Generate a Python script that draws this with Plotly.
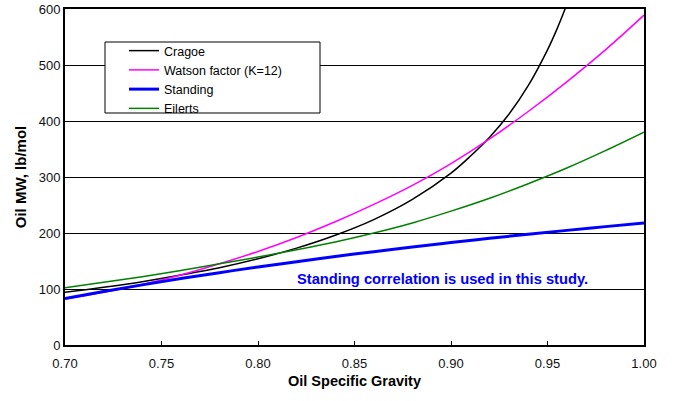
import plotly.graph_objects as go

sg = [0.70, 0.72, 0.74, 0.76, 0.78, 0.80, 0.82, 0.84, 0.86, 0.88, 0.90, 0.92, 0.94, 0.96, 0.98, 1.00]

cragoe_sg = [0.70, 0.72, 0.74, 0.76, 0.78, 0.80, 0.82, 0.84, 0.86, 0.88, 0.90, 0.91, 0.92, 0.93, 0.94, 0.95, 0.955, 0.96]
cragoe_mw = [94, 103, 113, 125, 138, 154, 173, 196, 224, 260, 307, 337, 371, 412, 463, 527, 565, 608]

watson_mw = [82, 94, 108, 125, 145, 167, 192, 220, 251, 285, 324, 368, 417, 470, 527, 589]
standing_mw = [83.2, 95.6, 107.4, 118.6, 129.2, 139.3, 148.8, 158.0, 166.7, 175.0, 182.9, 190.5, 197.8, 204.7, 211.4, 217.8]
eilerts_mw = [102, 112, 122, 133, 145, 157, 170, 184, 200, 218, 239, 262, 288, 316, 347, 380]

x_ticks = [0.70, 0.75, 0.80, 0.85, 0.90, 0.95, 1.00]
y_ticks = [0, 100, 200, 300, 400, 500, 600]

FONT = "Liberation Sans, Arial, sans-serif"
L, T = 65, 9            # plot area top-left on the page
PW, PH = 579, 336       # plot area size in px
B = T + PH              # plot area bottom on the page

fig = go.Figure()
fig.add_trace(go.Scatter(x=cragoe_sg, y=cragoe_mw, mode="lines", name="Cragoe",
                         line=dict(color="black", width=1.5, shape="spline")))
fig.add_trace(go.Scatter(x=sg, y=watson_mw, mode="lines", name="Watson factor (K=12)",
                         line=dict(color="#FF00FF", width=1.5, shape="spline")))
fig.add_trace(go.Scatter(x=sg, y=standing_mw, mode="lines", name="Standing",
                         line=dict(color="#0000FF", width=3, shape="spline")))
fig.add_trace(go.Scatter(x=sg, y=eilerts_mw, mode="lines", name="Eilerts",
                         line=dict(color="#008000", width=1.5, shape="spline")))

fig.add_annotation(x=0.8956, y=118, xref="x", yref="y", showarrow=False,
                   text="<b>Standing correlation is used in this study.</b>",
                   font=dict(family=FONT, size=14.7, color="#0000FF"))

# legend frame
fig.add_shape(type="rect", xref="paper", yref="paper",
              x0=(105 - L) / PW, x1=(320 - L) / PW,
              y0=(B - 113) / PH, y1=(B - 42) / PH,
              line=dict(color="black", width=1), fillcolor="white", layer="above")

fig.update_layout(
    width=675, height=401,
    margin=dict(l=L, r=675 - L - PW, t=T, b=401 - B, autoexpand=False),
    paper_bgcolor="white", plot_bgcolor="white",
    font=dict(family=FONT, size=13, color="#111111"),
    showlegend=True,
    legend=dict(x=(124 - L) / PW, y=(B - 36) / PH,
                xanchor="left", yanchor="top", bgcolor="rgba(0,0,0,0)",
                font=dict(family=FONT, size=12.5, color="black"),
                tracegroupgap=0, itemwidth=30),
    xaxis=dict(range=[0.70, 1.00], tickvals=x_ticks, ticktext=[f"{v:.2f}" for v in x_ticks],
               ticks="inside", ticklen=4, tickcolor="black", tickwidth=1,
               ticklabelstandoff=5,
               showline=True, linecolor="black", linewidth=2, mirror=True,
               showgrid=False, zeroline=False,
               title=dict(text="<b>Oil Specific Gravity</b>", font=dict(family=FONT, size=14.5, color="black"), standoff=6)),
    yaxis=dict(range=[0, 600], tickvals=y_ticks, ticklabeloverflow="allow",
               ticks="", showline=True, linecolor="black", linewidth=2, mirror=True,
               showgrid=True, gridcolor="black", gridwidth=1, zeroline=False,
               title=dict(text="<b>Oil MW, lb/mol</b>", font=dict(family=FONT, size=15, color="black"), standoff=8)),
)

fig.write_html("out.html", config={"displayModeBar": False},
               post_script="document.body.style.margin='0px';")
